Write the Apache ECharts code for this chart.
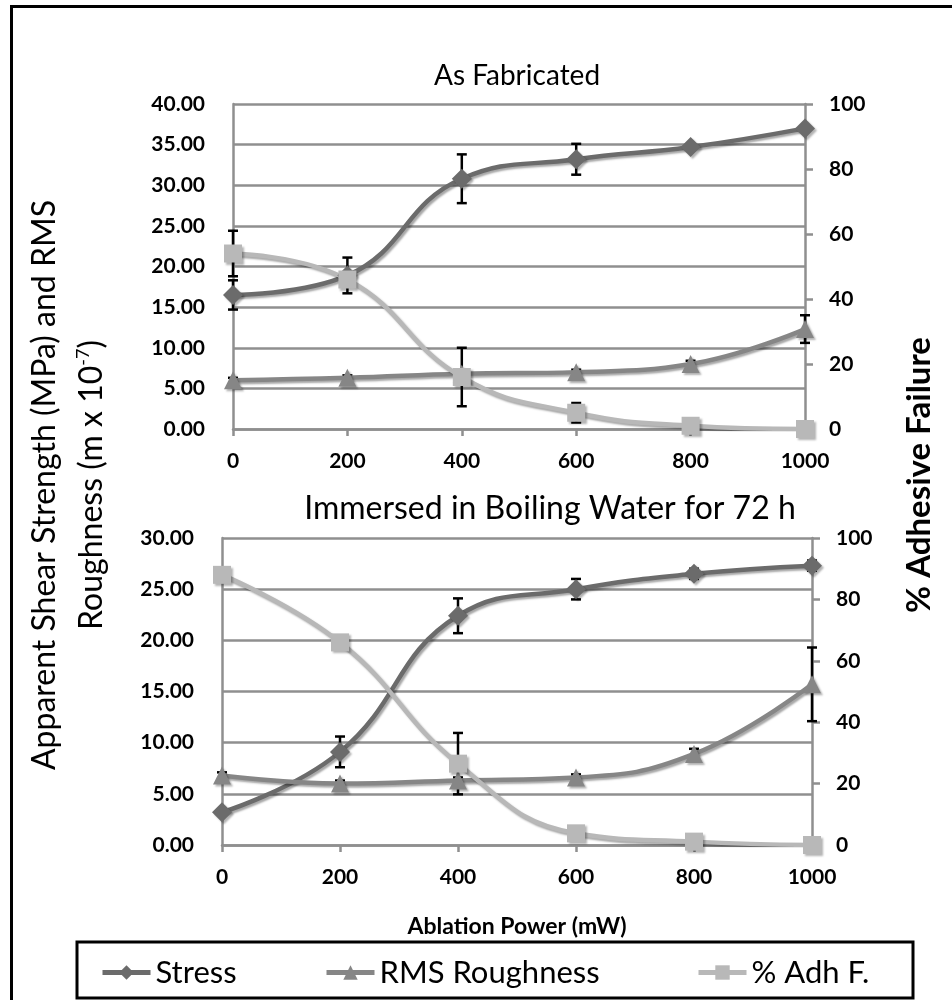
<!DOCTYPE html>
<html>
<head>
<meta charset="utf-8">
<script src="https://cdn.jsdelivr.net/npm/echarts@6/dist/echarts.min.js"></script>
<style>
  html, body { margin: 0; padding: 0; background: #fff; }
  #chart { width: 952px; height: 1000px; }
</style>
</head>
<body>
<div id="chart"></div>
<script>
  'use strict'
  // ablation power (mW)
  var powers = [0, 200, 400, 600, 800, 1000];

  /*----- As Fabricated -----*/
  var stressFab = [16.5, 18.9, 30.8, 33.2, 34.7, 37.0];
  var stressFabErr = [1.8, 2.2, 3.0, 1.9, 0.3, 0.3];
  var rmsFab = [6.0, 6.3, 6.8, 7.0, 8.0, 12.3];
  var rmsFabErr = [0.3, 0.3, 0.3, 0.3, 0.4, 1.7];
  var adhFab = [54, 46, 16, 5, 1, 0];
  var adhFabErr = [7, 2, 9, 3, 0, 0];

  /*----- Boiling water 72 h -----*/
  var stressBoil = [3.2, 9.1, 22.4, 25.0, 26.5, 27.3];
  var stressBoilErr = [0.3, 1.5, 1.7, 1.0, 0.5, 0.5];
  var rmsBoil = [6.8, 6.0, 6.3, 6.6, 8.9, 15.7];
  var rmsBoilErr = [0.3, 0.3, 0.3, 0.3, 0.5, 3.6];
  var adhBoil = [88, 66, 26.5, 3.8, 1.1, 0];
  var adhBoilErr = [0, 1, 10, 0, 0, 0];

  var titles = ['As Fabricated', 'Immersed in Boiling Water for 72 h'];

  var FONT = 'Lato';
  var AXIS_GRAY = '#8f8f8f';
  var C_STRESS = '#6b6b6b';
  var C_RMS = '#868686';
  var C_ADH = '#b8b8b8';

  function pairs(vals) {
    return powers.map(function (p, i) { return [p, vals[i]]; });
  }

  function lineSeries(name, xi, yi, vals, symbol, size, color) {
    return {
      name: name,
      type: 'line',
      xAxisIndex: xi,
      yAxisIndex: yi,
      data: pairs(vals),
      smooth: 0.45,
      symbol: symbol,
      symbolSize: size,
      z: 3,
      lineStyle: {
        width: 4.5,
        color: color,
        shadowColor: 'rgba(0,0,0,0.35)',
        shadowBlur: 2,
        shadowOffsetX: 2,
        shadowOffsetY: 2
      },
      itemStyle: {
        color: color,
        shadowColor: 'rgba(0,0,0,0.3)',
        shadowBlur: 2,
        shadowOffsetX: 2,
        shadowOffsetY: 2
      }
    };
  }

  function errSeries(xi, yi, vals, errs) {
    return {
      type: 'custom',
      xAxisIndex: xi,
      yAxisIndex: yi,
      z: 2,
      silent: true,
      data: powers.map(function (p, i) { return [p, vals[i], errs[i]]; }),
      renderItem: function (params, api) {
        var x = api.value(0), y = api.value(1), e = api.value(2);
        if (!e) return null;
        var hi = api.coord([x, y + e]);
        var lo = api.coord([x, y - e]);
        var w = 5;
        var st = { stroke: '#000', lineWidth: 2.5 };
        return {
          type: 'group',
          children: [
            { type: 'line', shape: { x1: hi[0], y1: hi[1], x2: lo[0], y2: lo[1] }, style: st },
            { type: 'line', shape: { x1: hi[0] - w, y1: hi[1], x2: hi[0] + w, y2: hi[1] }, style: st },
            { type: 'line', shape: { x1: lo[0] - w, y1: lo[1], x2: lo[0] + w, y2: lo[1] }, style: st }
          ]
        };
      }
    };
  }

  var tickLabel = { fontFamily: FONT, fontWeight: 'bold', fontSize: 21, color: '#000' };

  function xAxisOf(gi, extra) {
    var ax = {
      gridIndex: gi,
      type: 'value',
      min: 0,
      max: 1000,
      interval: 200,
      axisLine: { lineStyle: { color: AXIS_GRAY, width: 2.5 } },
      axisTick: { show: true, length: 7, lineStyle: { color: AXIS_GRAY, width: 2.5 } },
      splitLine: { show: false },
      axisLabel: Object.assign({ margin: 22, formatter: function (v) { return String(v); } }, tickLabel)
    };
    return Object.assign(ax, extra || {});
  }

  function leftAxisOf(gi, max) {
    return {
      gridIndex: gi,
      type: 'value',
      position: 'left',
      min: 0,
      max: max,
      interval: 5,
      axisLine: { show: true, lineStyle: { color: AXIS_GRAY, width: 2.5 } },
      axisTick: { show: false },
      splitLine: { show: true, lineStyle: { color: AXIS_GRAY, width: 2.5 } },
      axisLabel: Object.assign({ margin: 28, formatter: function (v) { return v.toFixed(2); } }, tickLabel)
    };
  }

  function rightAxisOf(gi) {
    return {
      gridIndex: gi,
      type: 'value',
      position: 'right',
      min: 0,
      max: 100,
      interval: 20,
      axisLine: { show: true, lineStyle: { color: AXIS_GRAY, width: 2.5 } },
      axisTick: { show: true, length: 8, lineStyle: { color: AXIS_GRAY, width: 2.5 } },
      splitLine: { show: false },
      axisLabel: Object.assign({ margin: 24 }, tickLabel)
    };
  }

  var legendText = { fontFamily: FONT, fontSize: 31, color: '#000' };
  function legendOf(name, left) {
    return {
      data: [name],
      left: left,
      top: 952,
      itemWidth: 48,
      itemHeight: 18,
      itemGap: 4,
      selectedMode: false,
      lineStyle: { width: 5 },
      textStyle: legendText
    };
  }

  var option = {
    animation: false,
    title: [
      { text: titles[0], left: 512, top: 57, textAlign: 'center',
        textStyle: { fontFamily: FONT, fontWeight: 'normal', fontSize: 28, color: '#000' } },
      { text: titles[1], left: 545, top: 488, textAlign: 'center',
        textStyle: { fontFamily: FONT, fontWeight: 'normal', fontSize: 32, color: '#000' } }
    ],
    grid: [
      { left: 233, top: 104, width: 572, height: 325 },
      { left: 222, top: 538, width: 590, height: 307 }
    ],
    xAxis: [
      xAxisOf(0),
      xAxisOf(1, {
        name: 'Ablation Power (mW)',
        nameLocation: 'middle',
        nameGap: 70,
        nameTextStyle: { fontFamily: FONT, fontWeight: 'bold', fontSize: 23, color: '#000' }
      })
    ],
    yAxis: [
      leftAxisOf(0, 40),
      rightAxisOf(0),
      leftAxisOf(1, 30),
      rightAxisOf(1)
    ],
    legend: [
      legendOf('Stress', 95),
      legendOf('RMS Roughness', 319),
      legendOf('% Adh F.', 691)
    ],
    graphic: [
      // outer frame (left and top edges)
      { type: 'line', shape: { x1: 11.5, y1: 5, x2: 11.5, y2: 1000 }, style: { stroke: '#000', lineWidth: 3 } },
      { type: 'line', shape: { x1: 10, y1: 6.5, x2: 952, y2: 6.5 }, style: { stroke: '#000', lineWidth: 3 } },
      // legend frame
      { type: 'rect', shape: { x: 77, y: 942, width: 836, height: 56 }, style: { fill: 'none', stroke: '#000', lineWidth: 3 } },
      {
        type: 'text', x: 45, y: 485, rotation: Math.PI / 2,
        style: {
          text: 'Apparent Shear Strength (MPa) and RMS',
          font: '32px Lato', fill: '#000',
          align: 'center', verticalAlign: 'middle', textAlign: 'center', textVerticalAlign: 'middle'
        }
      },
      {
        type: 'text', x: 92, y: 485, rotation: Math.PI / 2,
        style: {
          text: '{a|Roughness (m x 10}{s|-7}{a|)}',
          rich: {
            a: { fontFamily: FONT, fontSize: 32, color: '#000', lineHeight: 36 },
            s: { fontFamily: FONT, fontSize: 18, color: '#000', lineHeight: 36, verticalAlign: 'top', padding: [0, 0, 16, 0] }
          },
          fill: '#000',
          align: 'center', verticalAlign: 'middle', textAlign: 'center', textVerticalAlign: 'middle'
        }
      },
      {
        type: 'text', x: 919, y: 475, rotation: Math.PI / 2,
        style: {
          text: '% Adhesive Failure',
          font: 'bold 33px Lato', fill: '#000',
          align: 'center', verticalAlign: 'middle', textAlign: 'center', textVerticalAlign: 'middle'
        }
      }
    ],
    series: [
      errSeries(0, 0, stressFab, stressFabErr),
      errSeries(0, 0, rmsFab, rmsFabErr),
      errSeries(0, 1, adhFab, adhFabErr),
      lineSeries('Stress', 0, 0, stressFab, 'diamond', 20, C_STRESS),
      lineSeries('RMS Roughness', 0, 0, rmsFab, 'triangle', 18, C_RMS),
      lineSeries('% Adh F.', 0, 1, adhFab, 'rect', 18, C_ADH),

      errSeries(1, 2, stressBoil, stressBoilErr),
      errSeries(1, 2, rmsBoil, rmsBoilErr),
      errSeries(1, 3, adhBoil, adhBoilErr),
      lineSeries('Stress', 1, 2, stressBoil, 'diamond', 20, C_STRESS),
      lineSeries('RMS Roughness', 1, 2, rmsBoil, 'triangle', 18, C_RMS),
      lineSeries('% Adh F.', 1, 3, adhBoil, 'rect', 18, C_ADH)
    ]
  };

  var chart = echarts.init(document.getElementById('chart'));
  chart.setOption(option);
</script>
</body>
</html>
